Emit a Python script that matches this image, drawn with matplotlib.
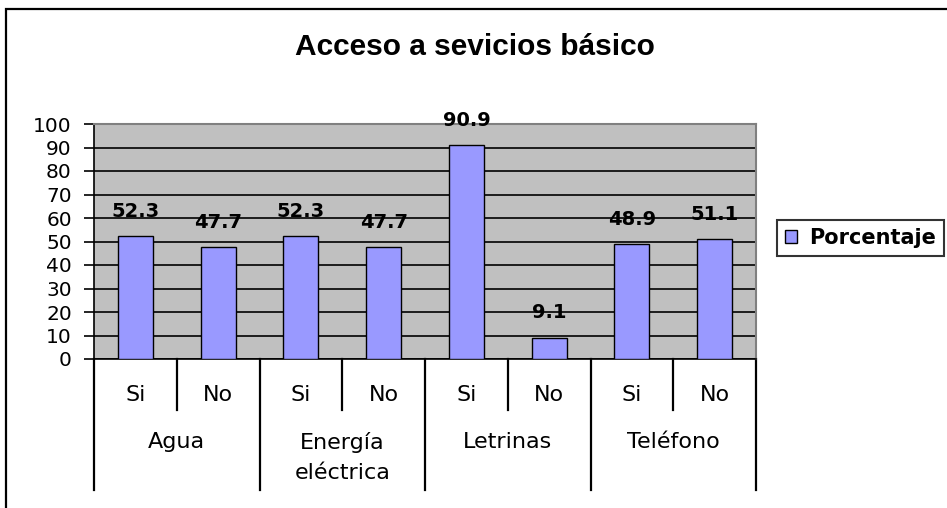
import matplotlib
matplotlib.use("Agg")
import matplotlib.pyplot as plt
from matplotlib.patches import Rectangle, Patch
import matplotlib.transforms as mtransforms

plt.rcParams['font.family'] = ['DejaVu Sans']

title = "Acceso a sevicios básico"
groups = ["Agua", "Energía\neléctrica", "Letrinas", "Teléfono"]
subcats = ["Si", "No", "Si", "No", "Si", "No", "Si", "No"]
values = [52.3, 47.7, 52.3, 47.7, 90.9, 9.1, 48.9, 51.1]
series_name = "Porcentaje"
yticks = list(range(0, 101, 10))

W, H = 947, 508
fig = plt.figure(figsize=(W / 100, H / 100), dpi=100)

# outer chart frame
fig.patches.append(Rectangle((6 / W, -0.1), 1.2, 1 - 9 / H + 0.1, transform=fig.transFigure,
                             fill=False, edgecolor='black', linewidth=1.6, zorder=0))

ax = fig.add_axes([94 / W, (H - 359) / H, 662 / W, 235 / H])
ax.set_facecolor('#C0C0C0')

x = list(range(len(values)))
bars = ax.bar(x, values, width=0.42, color='#9999FF', edgecolor='black', linewidth=1.0, zorder=3,
              label=series_name)
ax.bar_label(bars, fmt='%.1f', padding=11, fontsize=14, fontweight='bold', zorder=4)

ax.set_xlim(-0.5, len(values) - 0.5)
ax.set_ylim(0, 100)
ax.set_yticks(yticks)
ax.set_yticklabels([str(t) for t in yticks], fontsize=14.5)
ax.tick_params(axis='y', direction='out', length=7, width=1.2, pad=9)
ax.set_xticks([])
ax.yaxis.grid(True, color='black', linewidth=1.2, zorder=1)
ax.set_axisbelow(True)

for s in ['top', 'right']:
    ax.spines[s].set_color('#808080')
    ax.spines[s].set_linewidth(1.5)
for s in ['left', 'bottom']:
    ax.spines[s].set_color('black')
    ax.spines[s].set_linewidth(1.2)

# multi-level category axis
trans = mtransforms.blended_transform_factory(ax.transData, ax.transAxes)
n = len(values)
for i in range(n + 1):
    b = i - 0.5
    long_line = (i % 2 == 0)
    y0 = -131 / 235 if long_line else -51 / 235
    ax.plot([b, b], [0, y0], transform=trans, color='black', linewidth=1.6, clip_on=False)

for i, lab in enumerate(subcats):
    ax.text(i, -36 / 235, lab, transform=trans, ha='center', va='center', fontsize=16)

for g, lab in enumerate(groups):
    ax.text(2 * g + 0.5, -73 / 235, lab, transform=trans, ha='center', va='top', fontsize=16,
            linespacing=1.6)

fig.text(475 / W, 1 - 47 / H, title, ha='center', va='center', fontsize=21.5, fontweight='bold',
         family=['Liberation Sans', 'DejaVu Sans'])

handle = Patch(facecolor='#9999FF', edgecolor='black', linewidth=1.0)
leg = fig.legend([handle], [series_name], loc='upper left',
                 bbox_to_anchor=(777 / W, 1 - 220 / H), borderaxespad=0,
                 prop={'size': 15, 'weight': 'bold'}, frameon=True, fancybox=False,
                 handlelength=0.6, handleheight=0.6, handletextpad=0.55, borderpad=0.38)
leg.get_frame().set_edgecolor('black')
leg.get_frame().set_linewidth(1.5)

fig.savefig('out.png', dpi=100)
